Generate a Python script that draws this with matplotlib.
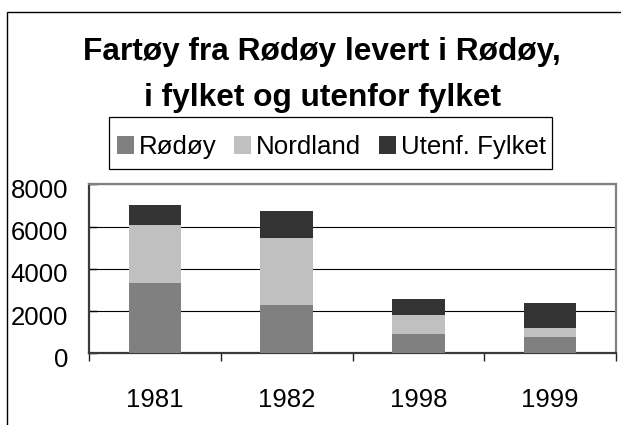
import matplotlib.pyplot as plt
import matplotlib.transforms as mtransforms
from matplotlib.patches import Rectangle
import numpy as np

plt.rcParams['font.family'] = ['Liberation Sans', 'DejaVu Sans']

years    = ['1981', '1982', '1998', '1999']
rodoy    = [3320, 2280, 910, 770]
nordland = [2740, 3170, 900, 430]
utenf    = [950, 1280, 760, 1180]

series_names = ['Rødøy', 'Nordland', 'Utenf. Fylket']
colors = ['#808080', '#c0c0c0', '#333333']

title_1 = 'Fartøy fra Rødøy levert i Rødøy,'
title_2 = 'i fylket og utenfor fylket'

W, H = 621, 425
fig = plt.figure(figsize=(W / 100, H / 100), dpi=100)
ax = fig.add_axes([89 / W, 1 - 353.3 / H, (616 - 89) / W, (353.3 - 184.3) / H])

x = np.arange(len(years))
bottom = np.zeros(len(years))
for vals, name, c in zip([rodoy, nordland, utenf], series_names, colors):
    ax.bar(x, vals, width=0.4, bottom=bottom, color=c, label=name, zorder=3)
    bottom += np.array(vals)

ax.set_xlim(-0.5, len(years) - 0.5)
ax.set_ylim(0, 8000)
ax.set_yticks(np.arange(0, 8001, 2000))
ax.grid(axis='y', color='black', linewidth=0.8, zorder=1)
ax.set_axisbelow(True)

# category boundaries as major ticks, year labels on minor ticks
ax.set_xticks(np.arange(-0.5, len(years), 1.0))
ax.set_xticklabels([])
ax.set_xticks(x, minor=True)
ax.set_xticklabels(years, minor=True, fontsize=18.5)
ax.tick_params(axis='x', which='major', direction='out', length=6, width=1, color='#222222')
ax.tick_params(axis='x', which='minor', length=0, pad=25)
ax.tick_params(axis='y', direction='in', length=6, width=1, color='black', labelsize=18.5, pad=15)

shift = mtransforms.ScaledTranslation(0, -4 / 100, fig.dpi_scale_trans)
for lab in ax.get_yticklabels():
    lab.set_transform(lab.get_transform() + shift)

for side in ('top', 'right'):
    ax.spines[side].set_color('#808080')
    ax.spines[side].set_linewidth(1.6)
for side in ('left', 'bottom'):
    ax.spines[side].set_color('#3a3a3a')
    ax.spines[side].set_linewidth(1.6)

fig.text(322 / W, 1 - 60 / H, title_1, ha='center', va='baseline', fontsize=22.8, fontweight='bold')
fig.text(322 / W, 1 - 106 / H, title_2, ha='center', va='baseline', fontsize=22.8, fontweight='bold')

leg = fig.legend(loc='center left', bbox_to_anchor=(117 / W, 1 - 147 / H), ncol=3, frameon=False,
                 fontsize=18.6, handlelength=0.65, handleheight=0.65, handletextpad=0.2,
                 columnspacing=0.68, borderpad=0, borderaxespad=0)

fig.add_artist(Rectangle((109 / W, 1 - 169.3 / H), 442.7 / W, 52 / H, transform=fig.transFigure,
                         fill=False, edgecolor='black', linewidth=0.9))
# outer chart frame, runs off the right and bottom of the image
fig.add_artist(Rectangle((7.3 / W, -0.1), 1.2, 1.1 - 12.3 / H, transform=fig.transFigure,
                         fill=False, edgecolor='black', linewidth=1.0, clip_on=False))

fig.savefig('out.png', dpi=100)
